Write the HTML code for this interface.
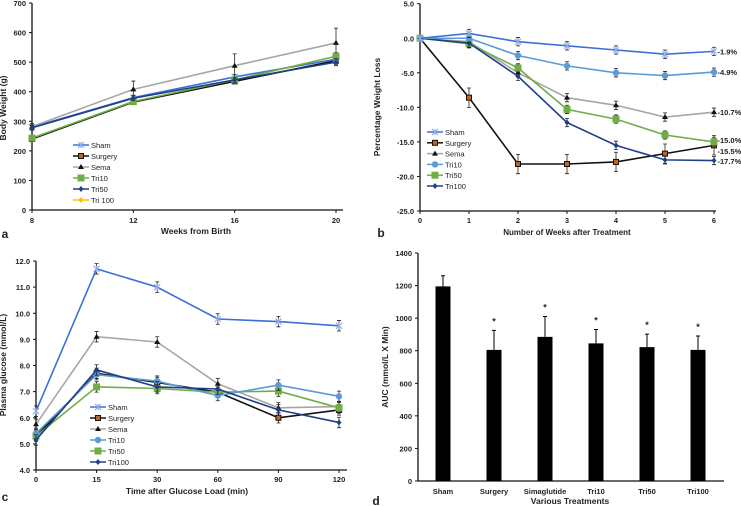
<!DOCTYPE html>
<html><head><meta charset="utf-8"><style>
body{margin:0;background:#fff;}
svg{display:block;font-family:"Liberation Sans",Arial,sans-serif;}
text{font-weight:bold;fill:#222;}
text.nb{font-weight:normal;}
</style></head><body>
<svg id="fig" width="741" height="506"></svg>
<script>
// Panel a data
const aX=[8,12,16,20];
const aSham=[280,380,450,510];
const aSurgery=[240,365,435,505];
const aSema=[282,408,488,565];
const aSemaErr=[10,28,40,50];
const aTri10=[243,367,440,520];
const aTri50=[278,378,440,500];
const aTri100=[242,366,436,505];
const aTicksY=[0,100,200,300,400,500,600,700];
// Panel b data
const bX=[0,1,2,3,4,5,6];
const bSham=[0,0.7,-0.5,-1.1,-1.7,-2.3,-1.9];
const bSurgery=[0,-8.6,-18.2,-18.2,-17.9,-16.7,-15.5];
const bSema=[0,-0.5,-5.0,-8.6,-9.7,-11.4,-10.7];
const bTri10=[0,0,-2.5,-4.0,-5.0,-5.4,-4.9];
const bTri50=[0,-0.8,-4.3,-10.3,-11.7,-14.0,-15.0];
const bTri100=[0,-0.7,-5.5,-12.2,-15.5,-17.6,-17.7];
const bEnd=["-1.9%","-4.9%","-10.7%","-15.0%","-15.5%","-17.7%"];
const bTicksY=[5,0,-5,-10,-15,-20,-25];
// Panel c data
const cCats=["0","15","30","60","90","120"];
const cSham=[6.25,11.7,11.0,9.78,9.68,9.52];
const cSurgery=[5.3,7.7,7.35,6.98,6.0,6.3];
const cSema=[5.75,9.1,8.9,7.3,6.38,6.43];
const cTri10=[5.4,7.65,7.4,6.85,7.25,6.82];
const cTri50=[5.3,7.18,7.12,6.98,7.02,6.38];
const cTri100=[5.15,7.83,7.18,7.1,6.3,5.82];
const cTicksY=[4,5,6,7,8,9,10,11,12];
// Panel d data
const dCats=["Sham","Surgery","Simaglutide","Tri10","Tri50","Tri100"];
const dVals=[1195,805,885,845,822,805];
const dErr=[65,120,125,85,80,85];
const dStar=[false,true,true,true,true,true];
const dTicksY=[0,200,400,600,800,1000,1200,1400];

const NS="http://www.w3.org/2000/svg";
const svg=document.getElementById('fig');
function el(tag,attrs,parent,name,inter){const e=document.createElementNS(NS,tag);for(const k in attrs)e.setAttribute(k,attrs[k]);


(parent||svg).appendChild(e);return e;}
function txt(x,y,s,size,anchor,name,parent,extra){const t=el('text',Object.assign({x:x,y:y,'font-size':size,'text-anchor':anchor||'middle'},extra||{}),parent,name);t.textContent=s;return t;}

const stylesBC={
 Sham:{c:'#3d6fd6',m:'x'}, Surgery:{c:'#111',m:'sq',mf:'#c0651e'}, Sema:{c:'#a6a6a6',m:'tri',mf:'#111'},
 Tri10:{c:'#5b9bd5',m:'dot'}, Tri50:{c:'#70ad47',m:'bigsq'}, Tri100:{c:'#1f3f86',m:'dia'}
};
const stylesA={
 Sham:{c:'#3d6fd6',m:'x'}, Surgery:{c:'#111',m:'sq',mf:'#c0651e'}, Sema:{c:'#a6a6a6',m:'tri',mf:'#111'},
 Tri10:{c:'#70ad47',m:'bigsq'}, Tri50:{c:'#1f3f86',m:'dia'}, 'Tri 100':{c:'#ffc000',m:'dia'}
};
function marker(g,x,y,s,name){
 const c=s.c;
 if(s.m==='x'){el('path',{d:`M${x-3} ${y-3}L${x+3} ${y+3}M${x-3} ${y+3}L${x+3} ${y-3}M${x} ${y-3}L${x} ${y+3}`,stroke:'#8fb0ee','stroke-width':1.2},g,name);}
 else if(s.m==='sq'){el('rect',{x:x-2.5,y:y-2.5,width:5,height:5,fill:s.mf,stroke:'#111','stroke-width':1},g,name);}
 else if(s.m==='bigsq'){el('rect',{x:x-3.5,y:y-3.5,width:7,height:7,fill:c},g,name);}
 else if(s.m==='tri'){el('path',{d:`M${x} ${y-3}L${x+3} ${y+2}L${x-3} ${y+2}Z`,fill:s.mf},g,name);}
 else if(s.m==='dot'){el('circle',{cx:x,cy:y,r:3.2,fill:c},g,name);}
 else {el('path',{d:`M${x} ${y-3}L${x+2.5} ${y}L${x} ${y+3}L${x-2.5} ${y}Z`,fill:c},g,name);}
}
function errbar(g,x,y1,y2,name){el('path',{d:`M${x} ${y1}L${x} ${y2}M${x-2} ${y1}L${x+2} ${y1}M${x-2} ${y2}L${x+2} ${y2}`,stroke:'#222','stroke-width':0.8,fill:'none'},g,name);}
function legend(g,x,y0,dy,names,st){
 names.forEach((n,i)=>{const s=st[n];const y=y0+i*dy;
  const lg=el('g',{},g,'legend-entry-'+n.toLowerCase().replace(' ',''),true);
  el('line',{x1:x,y1:y,x2:x+16,y2:y,stroke:s.c,'stroke-width':1.5},lg,'legend-line');
  marker(lg,x+8,y,s,'legend-marker');
  txt(x+18,y+3,n,7.5,'start','legend-label',lg,{'class':'nb'});
 });
}
function axes(g,x0,x1,yTop,yBot,yTicks,ysc,fmt,xTickPos,xTickLab,xLabY){
 el('line',{x1:x0,y1:yTop,x2:x0,y2:yBot,stroke:'#111','stroke-width':1.3},g,'y-axis-line');
 yTicks.forEach(v=>{const y=ysc(v);el('line',{x1:x0-3,y1:y,x2:x0,y2:y,stroke:'#111'},g,'y-tick');txt(x0-6,y+3,fmt(v),7.5,'end','y-tick-label',g);});
 xTickPos.forEach((x,i)=>{el('line',{x1:x,y1:yBot,x2:x,y2:yBot+3,stroke:'#111'},g,'x-tick');txt(x,xLabY,xTickLab[i],7.5,'middle','x-tick-label',g);});
}
function series(g,xs,ys,ysc,s,name,errs){
 const sg=el('g',{},g,'series-'+name);
 el('polyline',{points:xs.map((x,i)=>x+','+ysc(ys[i])).join(' '),fill:'none',stroke:s.c,'stroke-width':1.6},sg,'line-'+name);
 xs.forEach((x,i)=>{if(errs)errbar(sg,x,ysc(ys[i]+errs[i]),ysc(ys[i]-errs[i]),'error-bar');marker(sg,x,ysc(ys[i]),s,'point-'+name);});
}

// Panel a
(function(){const g=el('g',{},svg,'panel-a');
 const xs=v=>32+(v-8)/12*304, ys=v=>210-v/700*207;
 el('line',{x1:32,y1:210,x2:343,y2:210,stroke:'#111','stroke-width':1.3},g,'x-axis-line');
 axes(g,32,343,3,210,aTicksY,ys,v=>v,aX.map(xs),aX.map(String),223);
 const X=aX.map(xs);
 const ser=[['Tri 100',aTri100],['Surgery',aSurgery],['Sham',aSham],['Sema',aSema],['Tri10',aTri10],['Tri50',aTri50]];
 ser.forEach(([n,d])=>series(g,X,d,ys,stylesA[n],n.toLowerCase().replace(' ',''),n==='Sema'?aSemaErr:[8,8,8,12]));
 legend(g,73,145,11,['Sham','Surgery','Sema','Tri10','Tri50','Tri 100'],stylesA);
 txt(196,234,'Weeks from Birth',8.5,'middle','x-axis-title',g);
 txt(6,108,'Body Weight (g)',8.5,'middle','y-axis-title',g,{transform:'rotate(-90 6 108)'});
 txt(5,238,'a',12,'middle','panel-label',g);
})();
// Panel b
(function(){const g=el('g',{},svg,'panel-b');
 const xs=v=>420+v/6*294, ys=v=>3.7+(5-v)/30*207.3;
 el('line',{x1:420,y1:211,x2:716,y2:211,stroke:'#111','stroke-width':1.3},g,'x-axis-line');
 axes(g,420,716,3.7,211,bTicksY,ys,v=>v.toFixed(1),bX.map(xs),bX.map(String),223);
 const X=bX.map(xs);
 const ser=[['Sema',bSema],['Surgery',bSurgery],['Tri50',bTri50],['Tri100',bTri100],['Tri10',bTri10],['Sham',bSham]];
 ser.forEach(([n,d])=>series(g,X,d,ys,stylesBC[n],n.toLowerCase(),d.map((v,i)=>i===0?0:(n==='Surgery'?1.4:0.6))));
 legend(g,427,132,10.8,['Sham','Surgery','Sema','Tri10','Tri50','Tri100'],stylesBC);
 const endY=[-1.9,-4.9,-10.7,-14.7,-16.3,-17.8];
 bEnd.forEach((s,i)=>txt(717.5,ys(endY[i])+3,s,7.5,'start','end-label',g));
 txt(567,235,'Number of Weeks after Treatment',8,'middle','x-axis-title',g);
 txt(380,107,'Percentage Weight Loss',8.5,'middle','y-axis-title',g,{transform:'rotate(-90 380 107)'});
 txt(381,237,'b',12,'middle','panel-label',g);
})();
// Panel c
(function(){const g=el('g',{},svg,'panel-c');
 const xs=i=>36+i/5*303, ys=v=>470-(v-4)/8*209;
 el('line',{x1:36,y1:470,x2:347,y2:470,stroke:'#111','stroke-width':1.3},g,'x-axis-line');
 axes(g,36,347,261,470,cTicksY,ys,v=>v.toFixed(1),cCats.map((c,i)=>xs(i)),cCats,482);
 const X=cCats.map((c,i)=>xs(i));
 const ser=[['Sema',cSema],['Surgery',cSurgery],['Tri50',cTri50],['Tri10',cTri10],['Tri100',cTri100],['Sham',cSham]];
 ser.forEach(([n,d])=>series(g,X,d,ys,stylesBC[n],n.toLowerCase(),d.map(()=>0.2)));
 legend(g,90,407,11,['Sham','Surgery','Sema','Tri10','Tri50','Tri100'],stylesBC);
 txt(187,494,'Time after Glucose Load (min)',8.5,'middle','x-axis-title',g);
 txt(6,365,'Plasma glucose (mmol/L)',8.5,'middle','y-axis-title',g,{transform:'rotate(-90 6 365)'});
 txt(5,501,'c',12,'middle','panel-label',g);
})();
// Panel d
(function(){const g=el('g',{},svg,'panel-d');
 const cx=i=>443+i*51, ys=v=>481-v/1400*228;
 el('line',{x1:418,y1:481,x2:724,y2:481,stroke:'#111','stroke-width':1.3},g,'x-axis-line');
 axes(g,418,724,253,481,dTicksY,ys,v=>v,[],[],0);
 dCats.forEach((c,i)=>{const x=cx(i);
  el('rect',{x:x-7.5,y:ys(dVals[i]),width:15,height:ys(0)-ys(dVals[i]),fill:'#000'},g,'bar-'+c.toLowerCase());
  el('path',{d:`M${x} ${ys(dVals[i])}L${x} ${ys(dVals[i]+dErr[i])}M${x-2} ${ys(dVals[i]+dErr[i])}L${x+2} ${ys(dVals[i]+dErr[i])}`,stroke:'#000','stroke-width':1},g,'error-bar');
  if(dStar[i])txt(x,ys(dVals[i]+dErr[i])-6,'*',9,'middle','significance-star',g);
  txt(x,494,c,7.5,'middle','x-tick-label',g);
 });
 txt(570,504,'Various Treatments',8.5,'middle','x-axis-title',g);
 txt(388,367,'AUC (mmol/L X Min)',8.5,'middle','y-axis-title',g,{transform:'rotate(-90 388 367)'});
 txt(376,505,'d',12,'middle','panel-label',g);
})();
</script>
</body></html>
